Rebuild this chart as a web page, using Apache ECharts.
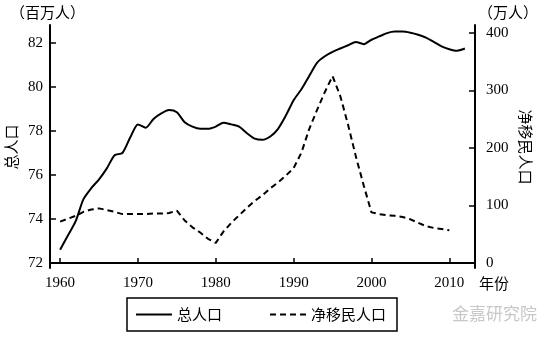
<!DOCTYPE html>
<html>
<head>
<meta charset="utf-8">
<script src="https://cdn.jsdelivr.net/npm/echarts@6/dist/echarts.min.js"></script>
<style>html,body{margin:0;padding:0;background:#fff}#c{width:559px;height:341px}</style>
</head>
<body>
<div id="c"></div>
<script>
var years = [1960,1961,1962,1963,1964,1965,1966,1967,1968,1969,1970,1971,1972,1973,1974,1975,1976,1977,1978,1979,1980,1981,1982,1983,1984,1985,1986,1987,1988,1989,1990,1991,1992,1993,1994,1995,1996,1997,1998,1999,2000,2001,2002,2003,2004,2005,2006,2007,2008,2009,2010,2011,2012];
var totalPop = [72.6,73.25,73.9,74.9,75.4,75.8,76.3,76.9,77.0,77.7,78.3,78.15,78.55,78.8,78.95,78.85,78.4,78.2,78.1,78.1,78.2,78.38,78.3,78.2,77.9,77.65,77.6,77.75,78.1,78.7,79.4,79.9,80.5,81.1,81.4,81.6,81.75,81.9,82.05,81.95,82.15,82.3,82.45,82.52,82.52,82.47,82.38,82.25,82.05,81.85,81.72,81.65,81.75];
var netMigration = [72,77,82,89,93,95,92,89,85,85,85,85,86,86,87,91,74,62,53,42,35,55,70,83,96,108,118,130,140,152,165,192,233,266,297,325,290,240,185,135,88,85,83,82,80,76,70,64,61,59,57];
var xTicks = [1960,1970,1980,1990,2000,2010];
var leftTicks = [72,74,76,78,80,82];
var rightTicks = [0,100,200,300,400];
var names = {total:'总人口', net:'净移民人口'};

function pairs(vals){ var out=[]; for (var i=0;i<vals.length;i++) out.push([years[i], vals[i]]); return out; }

var serif = '"Liberation Serif","DejaVu Serif",serif';
var cjk = '"Noto Sans CJK SC","Noto Sans",sans-serif';
var chart = echarts.init(document.getElementById('c'), null, {renderer:'canvas'});
chart.setOption({
  animation:false,
  backgroundColor:'#fff',
  grid:{left:50,right:84,top:25,bottom:73},
  xAxis:{
    type:'value', min:1958.7, max:2013.3,
    axisLine:{show:true,lineStyle:{color:'#000',width:2}},
    axisTick:{show:true,inside:true,length:5,lineStyle:{color:'#000',width:1.5},customValues:xTicks},
    axisLabel:{customValues:xTicks,color:'#000',fontFamily:serif,fontSize:15,margin:8,formatter:function(v){return String(v);}},
    splitLine:{show:false}
  },
  yAxis:[{
    type:'value', min:71.77, max:82.82, position:'left',
    axisLine:{show:true,lineStyle:{color:'#000',width:2}},
    axisTick:{show:true,inside:true,length:6,lineStyle:{color:'#000',width:1.5},customValues:leftTicks},
    axisLabel:{customValues:leftTicks,color:'#000',fontFamily:serif,fontSize:15,margin:7},
    splitLine:{show:false}
  },{
    type:'value', min:-8.7, max:413.9, position:'right',
    axisLine:{show:true,lineStyle:{color:'#000',width:2}},
    axisTick:{show:true,inside:true,length:6,lineStyle:{color:'#000',width:1.5},customValues:rightTicks},
    axisLabel:{customValues:rightTicks,color:'#000',fontFamily:serif,fontSize:15,margin:11},
    splitLine:{show:false}
  }],
  legend:{
    left:127, top:298, orient:'horizontal',
    padding:[9,11,9,8], itemWidth:36, itemHeight:14, itemGap:47,
    borderColor:'#000', borderWidth:1.5,
    itemStyle:{opacity:0},
    textStyle:{color:'#000',fontFamily:cjk,fontSize:15},
    data:[names.total, names.net]
  },
  series:[{
    name:names.total, type:'line', yAxisIndex:0, data:pairs(totalPop),
    symbol:'none', smooth:0.25, lineStyle:{color:'#000',width:2}, itemStyle:{color:'#000'}
  },{
    name:names.net, type:'line', yAxisIndex:1, data:pairs(netMigration),
    symbol:'none', lineStyle:{color:'#000',width:2,type:[6,4]}, itemStyle:{color:'#000'}
  }],
  graphic:[
    {type:'text', left:10, top:5, style:{text:'（百万人）', font:'15px '+cjk, fill:'#000'}},
    {type:'text', left:478, top:5, style:{text:'（万人）', font:'15px '+cjk, fill:'#000'}},
    {type:'text', left:479, top:276, style:{text:'年份', font:'15px '+cjk, fill:'#000'}},
    {type:'text', x:11, y:147, rotation:Math.PI/2, style:{text:'总人口', font:'15px '+cjk, fill:'#000', align:'center', verticalAlign:'middle'}},
    {type:'text', x:526, y:147, rotation:-Math.PI/2, style:{text:'净移民人口', font:'15px '+cjk, fill:'#000', align:'center', verticalAlign:'middle'}},
    {type:'text', left:452, top:305, style:{text:'金嘉研究院', font:'17px '+cjk, fill:'#c8c8c8'}}
  ]
});
</script>
</body>
</html>
